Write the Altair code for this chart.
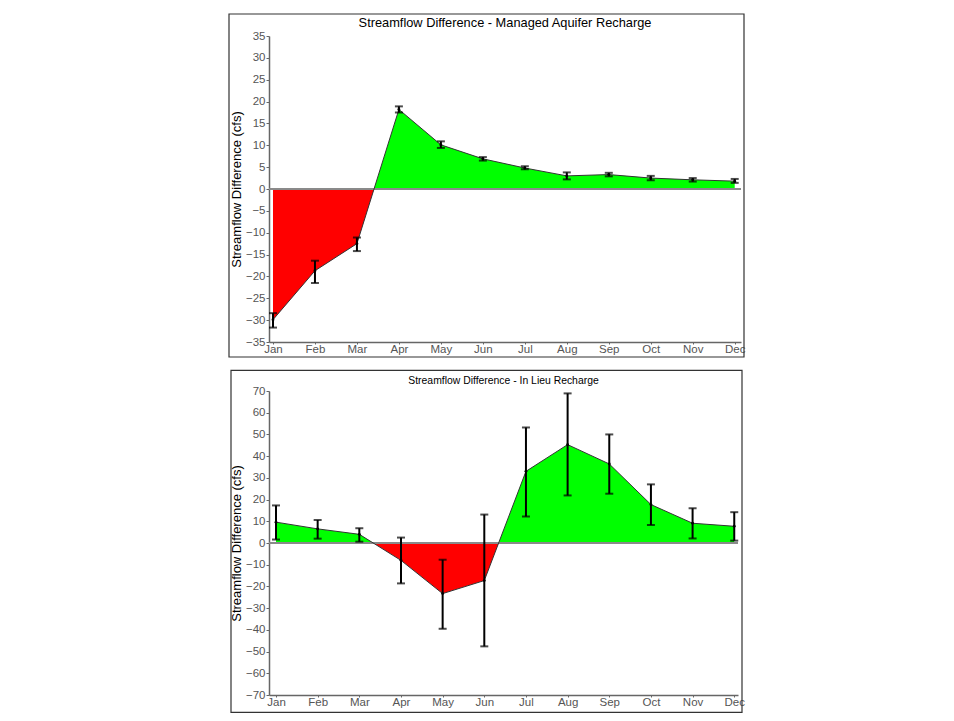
import altair as alt
import pandas as pd

months = ["Jan", "Feb", "Mar", "Apr", "May", "Jun", "Jul", "Aug", "Sep", "Oct", "Nov", "Dec"]

# Managed Aquifer Recharge (top)
mar_value = [-29.9, -18.7, -12.5, 18.2, 10.1, 6.9, 4.8, 3.0, 3.3, 2.5, 2.1, 1.8]
mar_low = [-31.7, -21.5, -14.2, 17.5, 9.4, 6.5, 4.5, 2.2, 2.9, 2.0, 1.7, 1.4]
mar_high = [-28.4, -16.4, -11.1, 18.9, 10.9, 7.3, 5.2, 3.8, 3.7, 3.0, 2.5, 2.3]

# In Lieu Recharge (bottom)
ilr_value = [9.6, 6.5, 4.0, -8.0, -23.3, -17.3, 33.0, 45.3, 36.4, 17.7, 9.1, 7.7]
ilr_low = [1.6, 2.0, 0.6, -18.6, -39.5, -47.6, 12.2, 21.9, 22.7, 8.3, 2.1, 1.1]
ilr_high = [17.3, 10.6, 6.8, 2.5, -7.7, 13.1, 53.2, 68.9, 50.0, 27.0, 16.0, 14.2]

top_ticks = list(range(-35, 40, 5))
bottom_ticks = list(range(-70, 80, 10))

top_title = "Streamflow Difference - Managed Aquifer Recharge"
bottom_title = "Streamflow Difference - In Lieu Recharge"
y_title = "Streamflow Difference (cfs)"

FONT = "Liberation Sans"
label_expr = "[" + ",".join("'%s'" % m for m in months) + "][datum.value]"


def panel(values, lows, highs, title, title_size, title_y, ydom, yticks,
          width, height, xdom, frame):
    df = pd.DataFrame({"i": list(range(12)), "month": months, "value": values,
                       "low": lows, "high": highs})
    vmax, vmin = max(values), min(values)
    f = vmax / (vmax - vmin)
    grad = alt.Gradient(
        gradient="linear",
        stops=[alt.GradientStop(color="#00ff00", offset=0),
               alt.GradientStop(color="#00ff00", offset=f),
               alt.GradientStop(color="#ff0000", offset=f),
               alt.GradientStop(color="#ff0000", offset=1)],
        x1=0, x2=0, y1=0, y2=1)

    xscale = alt.Scale(domain=xdom, nice=False, zero=False)
    yscale = alt.Scale(domain=ydom, nice=False, zero=False)
    xaxis = alt.Axis(values=list(range(12)), labelExpr=label_expr, title=None,
                     grid=False, labelFlush=False, labelOverlap=False,
                     tickSize=2, labelPadding=-1)
    yaxis = alt.Axis(values=yticks, title=y_title, grid=False,
                     labelOverlap=False, labelFlush=False, titlePadding=2)
    x = alt.X("i:Q", scale=xscale, axis=xaxis)

    def Y(field):
        return alt.Y(field + ":Q", scale=yscale, axis=yaxis)

    base = alt.Chart(df)
    one = alt.Chart(pd.DataFrame({"k": [0]}))
    fx1, fx2, fy1, fy2 = frame
    frame_layer = one.mark_rect(filled=False, color="#333333", strokeWidth=1.2).encode(
        x=alt.value(fx1), x2=alt.value(fx2), y=alt.value(fy1), y2=alt.value(fy2))
    title_layer = one.mark_text(text=title, font=FONT, fontSize=title_size, color="black",
                                align="center", baseline="middle").encode(
        x=alt.value(width / 2), y=alt.value(title_y))

    area = base.mark_area(color=grad, opacity=1).encode(x=x, y=Y("value"), y2=alt.datum(0))
    zero = base.mark_rule(color="#8a8a8a", strokeWidth=1.5).encode(
        y=alt.Y(datum=0, scale=yscale, axis=yaxis),
        x=alt.value(0), x2=alt.value(width))
    line = base.mark_line(color="#333333", strokeWidth=1).encode(x=x, y=Y("value"))
    bars = base.mark_rule(color="black", strokeWidth=2).encode(x=x, y=Y("low"), y2="high:Q")
    cap_lo = base.mark_tick(color="black", thickness=2, size=8, orient="horizontal").encode(
        x=x, y=Y("low"))
    cap_hi = base.mark_tick(color="black", thickness=2, size=8, orient="horizontal").encode(
        x=x, y=Y("high"))
    pts = base.mark_point(filled=True, color="black", size=8, opacity=1).encode(x=x, y=Y("value"))

    return alt.layer(frame_layer, title_layer, area, zero, line, bars, cap_lo, cap_hi,
                     pts).properties(width=width, height=height)


top = panel(mar_value, mar_low, mar_high, top_title, 12.8, -13,
            [-35, 35], top_ticks, 472, 306, [-0.095, 11.15], (-40, 475, -22, 321))

bottom = panel(ilr_value, ilr_low, ilr_high, bottom_title, 10.4, -10.5,
               [-70, 70], bottom_ticks, 469, 304, [-0.168, 11.09], (-38, 473, -20.7, 321.3))

chart = alt.vconcat(top, bottom, spacing=11).properties(
    padding={"left": 220, "top": 5, "right": 5, "bottom": 5},
    background="white",
).configure_view(strokeWidth=0).configure_axis(
    domainColor="#666666", tickColor="#666666", tickSize=3, domainWidth=1.5,
    labelColor="#555555", labelFont=FONT, labelFontSize=11.5, labelPadding=1,
    titleFont=FONT, titleFontSize=13, titleFontWeight="normal", titleColor="black",
)

chart.save("out.html", embed_options={"renderer": "svg", "actions": False})
